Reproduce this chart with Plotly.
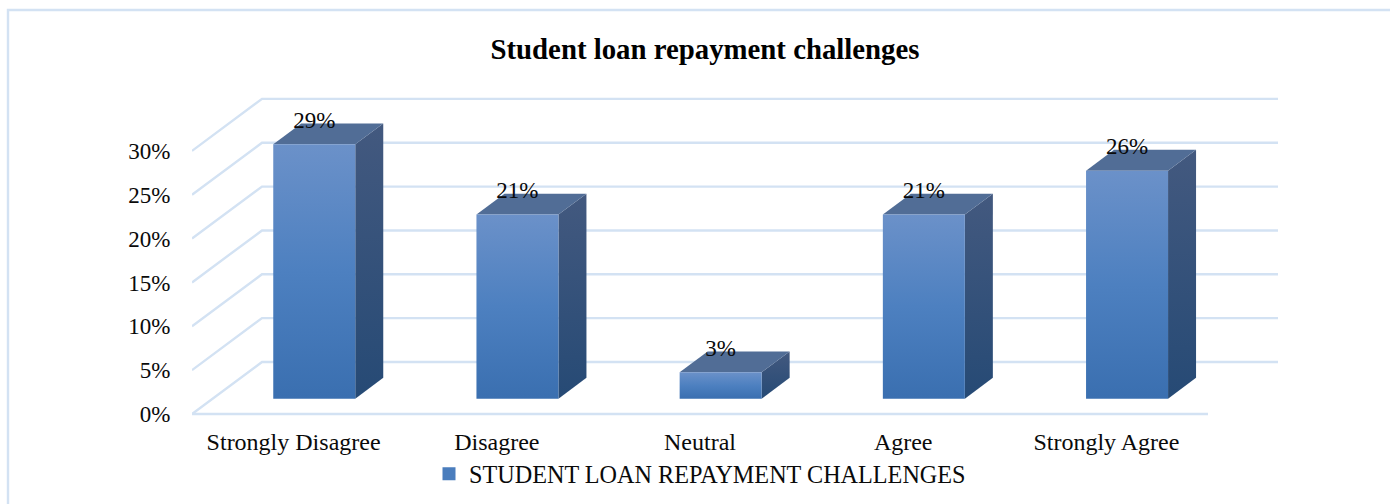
import plotly.graph_objects as go

# Survey results
categories = ["Strongly Disagree", "Disagree", "Neutral", "Agree", "Strongly Agree"]
shares = [29, 21, 3, 21, 26]
tick_values = [0, 5, 10, 15, 20, 25, 30]
series_name = "STUDENT LOAN REPAYMENT CHALLENGES"
chart_title = "Student loan repayment challenges"

# Pixel layout of the figure
WIDTH, HEIGHT = 1390, 504
LEFT, RIGHT_END, TOP, FLOOR, BOTTOM = 192, 1280, 90, 414, 418
PX_PER_CATEGORY = 203.2
PX_PER_PERCENT = 8.77

# Oblique projection: how far a unit of depth moves a point, in axis units
DEPTH_X = 70 / PX_PER_CATEGORY
DEPTH_Y = 52 / PX_PER_PERCENT
BAR_FRONT, BAR_BACK = 0.295, 0.695
BAR_HALF = 41 / PX_PER_CATEGORY

GRID = "#d3e2f3"
INK = "#0a0a0a"
FONT = "Liberation Serif"


def project(x, y, depth):
    return x + depth * DEPTH_X, y + depth * DEPTH_Y


def polygon(corners):
    pts = [project(*c) for c in corners]
    pts.append(pts[0])
    return [p[0] for p in pts], [p[1] for p in pts]


def face(corners, gradient=None, color=None):
    xs, ys = polygon(corners)
    style = dict(fillgradient=gradient) if gradient else dict(fillcolor=color)
    return go.Scatter(x=xs, y=ys, mode="lines", fill="toself", line=dict(width=0),
                      hoverinfo="skip", showlegend=False, **style)


fig = go.Figure()

# Back wall and side wall grid lines
for v in tick_values:
    pts = [project(-0.5, v, 0), project(-0.5, v, 1), project(4.5, v, 1)]
    fig.add_trace(go.Scatter(x=[p[0] for p in pts], y=[p[1] for p in pts], mode="lines",
                             line=dict(color=GRID, width=2.4), hoverinfo="skip",
                             showlegend=False))
# Front edge of the floor
fig.add_trace(go.Scatter(x=[-0.5, 4.5], y=[0, 0], mode="lines",
                         line=dict(color=GRID, width=2.4), hoverinfo="skip",
                         showlegend=False))

front_gradient = dict(type="vertical",
                      colorscale=[[0, "#3a6fb0"], [0.5, "#4d80c0"], [1, "#6b91c9"]])
side_gradient = dict(type="vertical",
                     colorscale=[[0, "#264a75"], [1, "#43597f"]])

# Each bar is three faces: side, top, front
for i, v in enumerate(shares):
    l, r = i - BAR_HALF, i + BAR_HALF
    fig.add_trace(face([(r, 0, BAR_FRONT), (r, 0, BAR_BACK), (r, v, BAR_BACK), (r, v, BAR_FRONT)],
                       gradient=side_gradient))
    fig.add_trace(face([(l, v, BAR_FRONT), (r, v, BAR_FRONT), (r, v, BAR_BACK), (l, v, BAR_BACK)],
                       color="#516d96"))
    fig.add_trace(face([(l, 0, BAR_FRONT), (r, 0, BAR_FRONT), (r, v, BAR_FRONT), (l, v, BAR_FRONT)],
                       gradient=front_gradient))

# Value labels above the front edge of each bar; the unseen marker sets their offset
label_pts = [project(i, v, BAR_FRONT) for i, v in enumerate(shares)]
fig.add_trace(go.Scatter(x=[p[0] for p in label_pts], y=[p[1] for p in label_pts],
                         mode="markers+text", text=[f"{v}%" for v in shares],
                         marker=dict(size=16, color="rgba(0,0,0,0)"),
                         textposition="top center", textfont=dict(size=23, color=INK),
                         hoverinfo="skip", showlegend=False, cliponaxis=False))

# Legend entry
fig.add_trace(go.Scatter(x=[None], y=[None], mode="markers", name=series_name,
                         marker=dict(symbol="square", size=13, color="#4a7dbd")))

plot_w = RIGHT_END - LEFT
plot_h = BOTTOM - TOP
fig.update_layout(
    width=WIDTH, height=HEIGHT,
    margin=dict(l=LEFT, r=WIDTH - RIGHT_END, t=TOP, b=HEIGHT - BOTTOM, autoexpand=False),
    paper_bgcolor="white", plot_bgcolor="rgba(0,0,0,0)",
    font=dict(family=FONT, size=23, color=INK),
    title=dict(text=f"<b>{chart_title}</b>", x=705 / WIDTH, xanchor="center",
               y=1 - 49 / HEIGHT, yanchor="middle", yref="container",
               font=dict(family=FONT, size=28.8, color="#000000")),
    xaxis=dict(range=[-0.5, -0.5 + plot_w / PX_PER_CATEGORY], tickmode="array",
               tickvals=list(range(len(categories))), ticktext=categories,
               tickfont=dict(size=24),
               showgrid=False, zeroline=False, showline=False,
               ticks="outside", ticklen=2, tickcolor="rgba(0,0,0,0)", fixedrange=True),
    yaxis=dict(range=[(FLOOR - BOTTOM) / PX_PER_PERCENT, (FLOOR - TOP) / PX_PER_PERCENT],
               tickmode="array", tickvals=tick_values,
               ticktext=[f"{v}%" for v in tick_values], tickfont=dict(size=23),
               showgrid=False, zeroline=False, showline=False,
               ticks="outside", ticklen=16, tickcolor="rgba(0,0,0,0)", fixedrange=True),
    legend=dict(orientation="h", x=(700 - LEFT) / plot_w, xanchor="center",
                y=(BOTTOM - 474) / plot_h, yanchor="middle",
                font=dict(size=24.2), bgcolor="rgba(0,0,0,0)"),
    showlegend=True,
    # Outer frame, running off the right and bottom edges of the page
    shapes=[dict(type="rect", xref="paper", yref="paper",
                 x0=(8 - LEFT) / plot_w, x1=(WIDTH + 5 - LEFT) / plot_w,
                 y0=(BOTTOM - HEIGHT - 5) / plot_h, y1=(BOTTOM - 10) / plot_h,
                 line=dict(color=GRID, width=2.4), layer="below")],
)

fig.write_html("out.html", config=dict(displayModeBar=False))
